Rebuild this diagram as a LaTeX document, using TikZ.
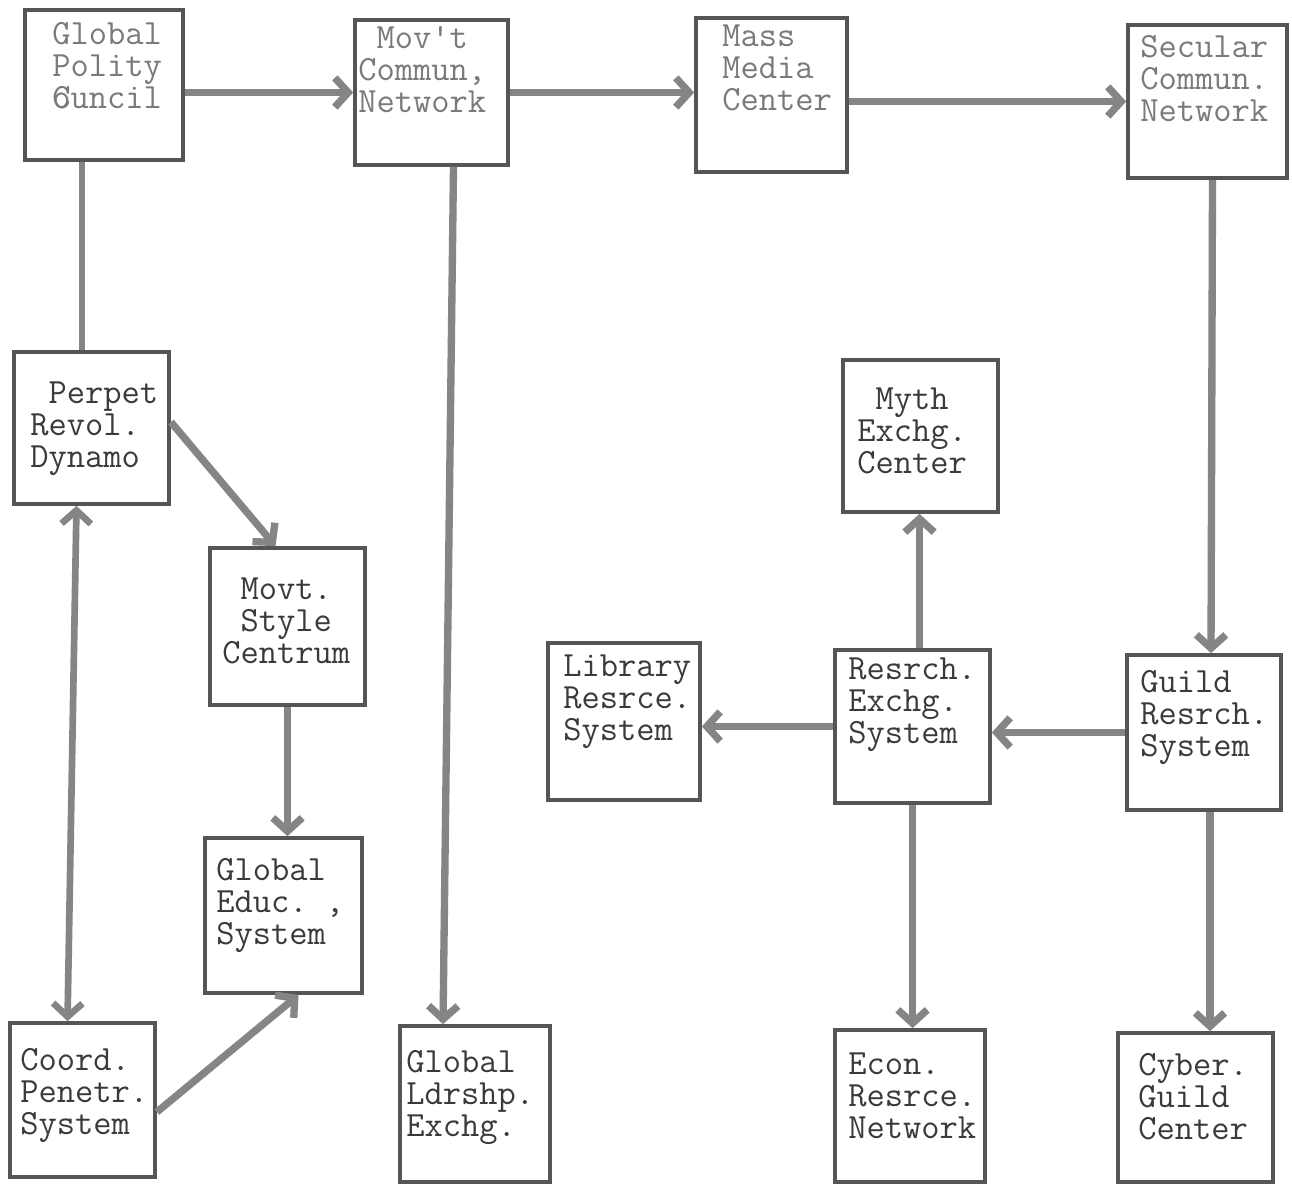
\documentclass[tikz,border=0pt]{standalone}
\usepackage{fontspec}
\usetikzlibrary{arrows.meta,calc}
\definecolor{boxc}{HTML}{555555}
\definecolor{arrc}{HTML}{858585}
\definecolor{txtc}{HTML}{3A3A3A}
\definecolor{txtl}{HTML}{7A7A7A}
\begin{document}
\begin{tikzpicture}[x=0.75pt,y=-0.75pt,
  box/.style={draw=boxc, line width=2.8pt, rectangle, inner sep=0pt},
  lbl/.style={anchor=north west, inner sep=0pt, align=left, font=\ttfamily\fontsize{26.6pt}{24pt}\selectfont, text=txtc},
  lite/.style={text=txtl},
  tip/.tip={Straight Barb[length=10pt,width=22pt]},
  arr/.style={draw=arrc, line width=5.5pt, -tip},
  darr/.style={draw=arrc, line width=5pt, tip-tip},
  ln/.style={draw=arrc, line width=5pt},
]
\fill[white] (0,0) rectangle (1292,1184);
\useasboundingbox (0,0) rectangle (1292,1184);

% boxes
\node[box, minimum width=118.5pt, minimum height=112.5pt] (gpc) at (104,85) {};
\node[box, minimum width=114.75pt, minimum height=108.75pt] (movt) at (431.5,92.5) {};
\node[box, minimum width=113.25pt, minimum height=115.5pt] (mass) at (771.5,95) {};
\node[box, minimum width=119.25pt, minimum height=114.75pt] (secular) at (1207.5,101.5) {};
\node[box, minimum width=116.25pt, minimum height=114pt] (perpet) at (91.5,428) {};
\node[box, minimum width=116.25pt, minimum height=117.75pt] (style) at (287.5,626.5) {};
\node[box, minimum width=117.75pt, minimum height=116.25pt] (educ) at (283.5,915.5) {};
\node[box, minimum width=108.75pt, minimum height=115.5pt] (coord) at (82.5,1100) {};
\node[box, minimum width=112.5pt, minimum height=117pt] (ldr) at (475,1104) {};
\node[box, minimum width=116.25pt, minimum height=114pt] (myth) at (920.5,436) {};
\node[box, minimum width=114pt, minimum height=117.75pt] (library) at (624,721.5) {};
\node[box, minimum width=116.25pt, minimum height=114.75pt] (resrch) at (912.5,726.5) {};
\node[box, minimum width=115.5pt, minimum height=116.25pt] (guild) at (1204,732.5) {};
\node[box, minimum width=112.5pt, minimum height=114pt] (econ) at (910,1106) {};
\node[box, minimum width=116.25pt, minimum height=111.75pt] (cyber) at (1195.5,1107.5) {};

% texts
\node[lbl, lite] (gpcT) at (52,22) {Global\\Polity\\\rlap{C}ouncil};
\node[lbl, lite] (movtT) at (358,26) {\hphantom{M}Mov't\\Commun,\\Network};
\node[lbl, lite] (massT) at (722,25) {Mass\\Media\\Center};
\node[lbl, lite] (secularT) at (1140,35) {Secular\\Commun.\\Network};
\node[lbl] (perpetT) at (30,382) {\hphantom{M}Perpet\\Revol.\\Dynamo};
\node[lbl] (styleT) at (222,578) {\hphantom{M}Movt.\\\hphantom{M}Style\\Centrum};
\node[lbl] (educT) at (216,858) {Global\\Educ.\ ,\\System};
\node[lbl] (coordT) at (20,1048) {Coord.\\Penetr.\\System};
\node[lbl] (ldrT) at (406,1050) {Global\\Ldrshp.\\Exchg.};
\node[lbl] (mythT) at (857,388) {\hphantom{M}Myth\\Exchg.\\Center};
\node[lbl] (libraryT) at (563,655) {Library\\Resrce.\\System};
\node[lbl] (resrchT) at (848,658) {Resrch.\\Exchg.\\System};
\node[lbl] (guildT) at (1140,670) {Guild\\Resrch.\\System};
\node[lbl] (econT) at (848,1053) {Econ.\\Resrce.\\Network};
\node[lbl] (cyberT) at (1138,1053) {Cyber.\\Guild\\Center};

% helper coordinates
\coordinate (a1) at ($(gpc.south)+(-22,0)$);
\coordinate (a2) at ($(perpet.south)+(-15,0)$);
\coordinate (a3) at ($(coord.north)+(-15,0)$);
\coordinate (a4) at ($(perpet.east)+(0,-6)$);
\coordinate (a5) at ($(style.north)+(-12,0)$);
\coordinate (a6) at ($(coord.east)+(0,12)$);
\coordinate (a7) at ($(educ.south)+(15,0)$);
\coordinate (a8) at ($(movt.south)+(22,0)$);
\coordinate (a9) at ($(ldr.north)+(-32,0)$);
\coordinate (a10) at ($(secular.south)+(5,0)$);
\coordinate (a11) at ($(guild.north)+(7,0)$);
\coordinate (a12) at ($(resrch.north)+(7,0)$);
\coordinate (a13) at ($(guild.south)+(6,0)$);

% connectors
\draw[arr] (gpc.east |- movt.west) -- (movt.west);
\draw[arr] (movt.east) -- (movt.east -| mass.west);
\draw[arr] (mass.east |- secular.west) -- (secular.west);
\draw[ln] (a1) -- (a1 |- perpet.north);
\draw[darr] (a2) -- (a3);
\draw[arr] (a4) -- (a5);
\draw[arr] (style.south) -- (style.south |- educ.north);
\draw[arr] (a6) -- (a7);
\draw[arr] (a8) -- (a9);
\draw[arr] (a10) -- (a11);
\draw[arr] (guild.west) -- (guild.west -| resrch.east);
\draw[arr] (resrch.west) -- (resrch.west -| library.east);
\draw[arr] (a12) -- (a12 |- myth.south);
\draw[arr] (resrch.south) -- (resrch.south |- econ.north);
\draw[arr] (a13) -- (a13 |- cyber.north);
\end{tikzpicture}
\end{document}
